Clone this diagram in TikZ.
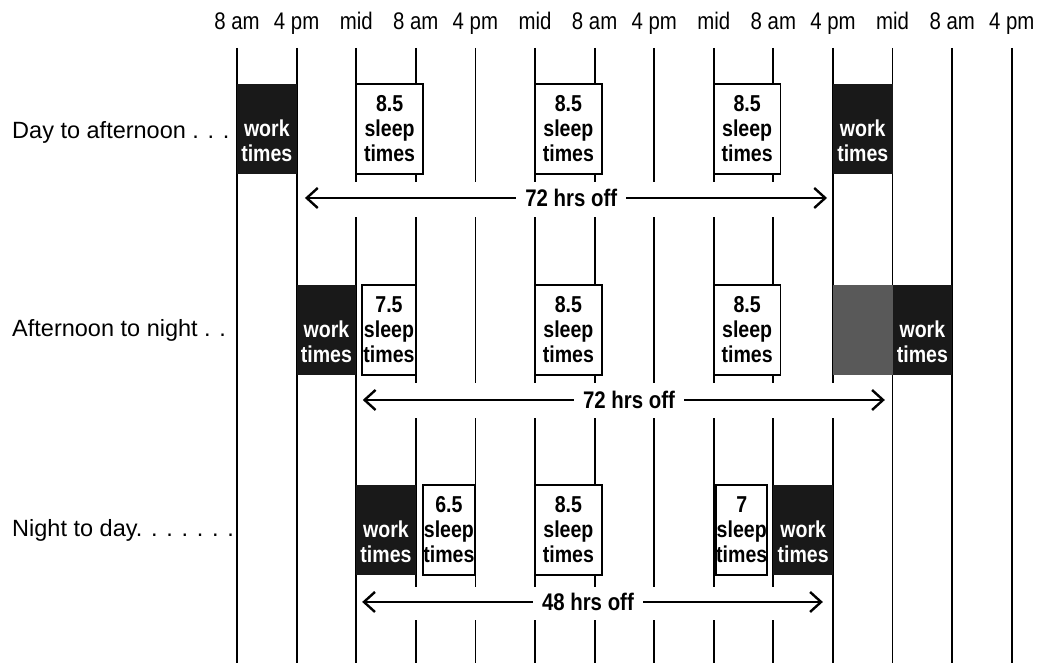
\documentclass[tikz,border=0pt]{standalone}
\usepackage{fontspec}
\setmainfont{Liberation Sans}
\newfontfamily\narrowfont{Liberation Sans}[FakeStretch=0.85]
\usetikzlibrary{arrows.meta}
\tikzset{
  gridline/.style={line width=1.8pt},
  timelabel/.style={anchor=base,font=\narrowfont\fontsize{24}{26}\selectfont,inner sep=0pt},
  rowlabel/.style={anchor=west,font=\fontsize{23.5}{27}\selectfont,inner sep=0pt},
  boxtext/.style={font=\narrowfont\bfseries\fontsize{23}{25}\selectfont,align=center,
    anchor=north west,inner sep=0pt,outer sep=0pt,minimum height=90pt},
  workbox/.style={boxtext,fill=black!90,text=white,minimum width=59.6pt},
  speckbox/.style={anchor=north west,inner sep=0pt,outer sep=0pt,fill=black!65,
    minimum width=59.6pt,minimum height=90pt},
  sleepbox/.style={boxtext,draw,line width=1.8pt,fill=white,minimum width=#1*59.6pt},
  sleepbox/.default=1,
  offarrow/.style={{Straight Barb[length=11pt,width=20pt]}-{Straight Barb[length=11pt,width=20pt]},
    line width=2.4pt},
  offlabel/.style={fill=white,font=\narrowfont\bfseries\fontsize{24}{26}\selectfont,
    inner xsep=9pt,inner ysep=2pt}
}
\begin{document}
\begin{tikzpicture}[x=59.6pt,y=-1pt]
  \useasboundingbox (-3.977,0) rectangle (13.591,663);
  % clock times along the top
  \foreach \k/\t in {0/8 am,1/4 pm,2/mid,3/8 am,4/4 pm,5/mid,6/8 am,7/4 pm,
      8/mid,9/8 am,10/4 pm,11/mid,12/8 am,13/4 pm}
    \node[timelabel] (t\k) at (\k,30) {\t};
  \foreach \k in {0,...,13} \draw[gridline] (\k,48) -- (\k,663);
  % breaks in the lines behind the arrows
  \fill[white] (1.6,182) rectangle (9.4,217);
  \fill[white] (2.6,383) rectangle (10.4,418);
  \fill[white] (2.6,587) rectangle (9.4,620);

  % day to afternoon
  \node[rowlabel] (rDay) at (-3.775,132) {Day to afternoon . . .};
  \node[workbox] (dw1) at (0,84) {\phantom{8.5}\\work\\times};
  \node[sleepbox=1.12] (ds1) at (2,84) {8.5\\sleep\\times};
  \node[sleepbox=1.12] (ds2) at (5,84) {8.5\\sleep\\times};
  \node[sleepbox=1.12] (ds3) at (8,84) {8.5\\sleep\\times};
  \node[workbox] (dw2) at (10,84) {\phantom{8.5}\\work\\times};
  \coordinate (dL) at (1.14,198);
  \coordinate (dR) at (9.9,198);
  \draw[offarrow] (dL) -- node[offlabel,pos=0.51] (dOff) {72 hrs off} (dR);

  % afternoon to night
  \node[rowlabel] (rAft) at (-3.775,330) {Afternoon to night . .};
  \node[workbox] (aw1) at (1,285) {\phantom{8.5}\\work\\times};
  \node[sleepbox=0.9] (as1) at (2.1,285) {7.5\\sleep\\times};
  \node[sleepbox=1.12] (as2) at (5,285) {8.5\\sleep\\times};
  \node[sleepbox=1.12] (as3) at (8,285) {8.5\\sleep\\times};
  \node[speckbox] (ah) at (10,285) {};
  \node[workbox] (aw2) at (11,285) {\phantom{8.5}\\work\\times};
  \coordinate (aL) at (2.11,400);
  \coordinate (aR) at (10.87,400);
  \draw[offarrow] (aL) -- node[offlabel,pos=0.51] (aOff) {72 hrs off} (aR);

  % night to day
  \node[rowlabel] (rNig) at (-3.775,530) {Night to day. . . . . . .};
  \node[workbox] (nw1) at (2,485) {\phantom{8.5}\\work\\times};
  \node[sleepbox=0.87] (ns1) at (3.12,485) {6.5\\sleep\\times};
  \node[sleepbox=1.12] (ns2) at (5,485) {8.5\\sleep\\times};
  \node[sleepbox=0.85] (ns3) at (8.04,485) {7\\sleep\\times};
  \node[workbox] (nw2) at (9,485) {\phantom{8.5}\\work\\times};
  \coordinate (nL) at (2.1,602);
  \coordinate (nR) at (9.83,602);
  \draw[offarrow] (nL) -- node[offlabel,pos=0.49] (nOff) {48 hrs off} (nR);
\end{tikzpicture}
\end{document}
